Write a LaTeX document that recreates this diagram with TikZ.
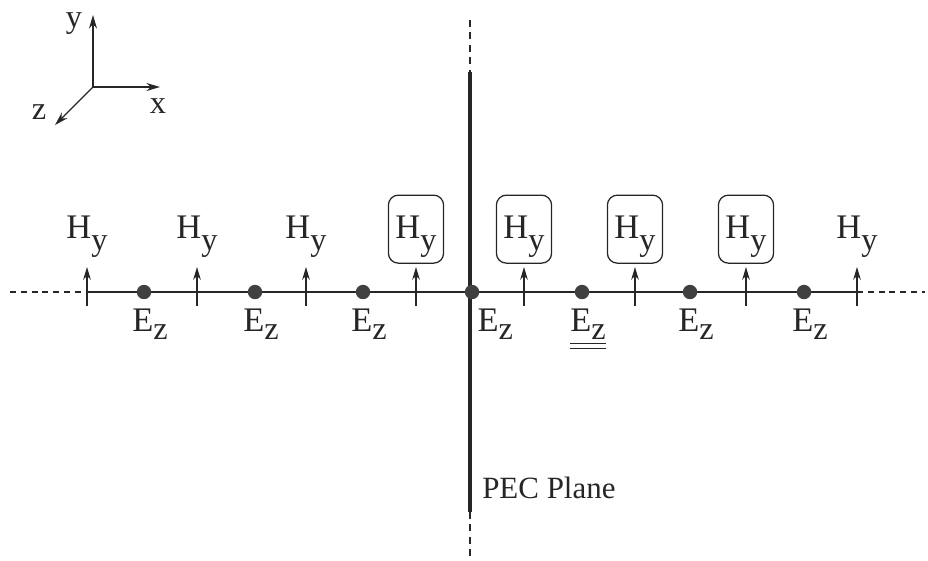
\documentclass[tikz,border=0pt]{standalone}
\usepackage{fontspec}
\setmainfont{Liberation Serif}
\usetikzlibrary{positioning,arrows.meta}

\newcommand{\Hy}{H\raisebox{-8.5pt}{\fontsize{23}{23}\selectfont y}}
\newcommand{\Ez}{E\raisebox{-6pt}{\fontsize{23}{23}\selectfont z}}

\begin{document}
\begin{tikzpicture}[x=0.025cm,y=-0.025cm,
  lb/.style={font=\fontsize{23}{26}\selectfont,text=black!85,inner sep=0pt},
  fl/.style={lb,font=\fontsize{24.5}{28}\selectfont},
  bx/.style={fl,draw=black!85,rounded corners=2.5mm,line width=0.9pt,
    text depth=3pt,minimum width=1.38cm,minimum height=1.7cm},
  dt/.style={circle,fill=black!75,minimum size=3.6mm,inner sep=0pt},
  hv/.style={-{Stealth[length=3.2mm,width=1.9mm]},draw=black!85,line width=0.8pt},
  ax/.style={-{Stealth[length=3.4mm,width=2mm]},draw=black!85,line width=0.9pt},
  ln/.style={draw=black!85,line width=0.9pt},
  dl/.style={ln,dash pattern=on 1.5mm off 1.2mm},
  pec/.style={draw=black!85,line width=2.2pt},
  pd/.style={draw=black!85,line width=1.4pt,dash pattern=on 1.7mm off 1.4mm},
  ul/.style={draw=black!85,line width=0.8pt}]
\useasboundingbox (0,0) rectangle (928,560);

% --- axes ---
\coordinate (o) at (93,87);
\coordinate (ya) at (93,15);
\coordinate (xa) at (160,87);
\coordinate (za) at (55,125);
\draw[ax] (o) -- (ya);
\draw[ax] (o) -- (xa);
\draw[ax] (o) -- (za);
\node[lb] (ly) at (74,24) {y};
\node[lb] (lx) at (158,106) {x};
\node[lb] (lz) at (39,112) {z};

% --- PEC plane ---
\coordinate (p0) at (470,20);
\coordinate (p1) at (470,72);
\coordinate (p2) at (470,512);
\coordinate (p3) at (470,560);
\draw[pd] (p0) -- (p1);
\draw[pec] (p1) -- (p2);
\draw[pd] (p2) -- (p3);
\node[lb,font=\fontsize{22}{26}\selectfont,anchor=base west] (pl) at (482,498) {PEC Plane};

% --- grid line ---
\coordinate (g0) at (10,292);
\coordinate (g1) at (87,292);
\coordinate (g2) at (857,292);
\coordinate (g3) at (925,292);
\draw[dl] (g0) -- (g1);
\draw[ln] (g1) -- (g2);
\draw[dl] (g2) -- (g3);

% --- H_y samples ---
\foreach \x [count=\i] in {87,197,306,416,524,635,746,857}{
  \coordinate (hb\i) at (\x,306);
  \coordinate (ht\i) at (\x,267);
  \draw[hv] (hb\i) -- (ht\i);
}
\foreach \i in {1,2,3,8} \node[fl,above=2.3mm of ht\i] (h\i) {\Hy};
\foreach \i in {4,...,7} \node[bx,above=0.8mm of ht\i] (h\i) {\Hy};

% --- E_z samples ---
\foreach \x/\s [count=\i] in {144/1.5,255/1.5,363/1.5,472/5.8,582/1.5,690/1.5,804/1.5}{
  \node[dt] (e\i) at (\x,292) {};
  \node[fl,below=2.2mm of e\i,xshift=\s mm] (ez\i) {\Ez};
}
\draw[ul] ([yshift=-0.9mm]ez5.south west) -- ([yshift=-0.9mm]ez5.south east);
\draw[ul] ([yshift=-2.1mm]ez5.south west) -- ([yshift=-2.1mm]ez5.south east);
\end{tikzpicture}
\end{document}
